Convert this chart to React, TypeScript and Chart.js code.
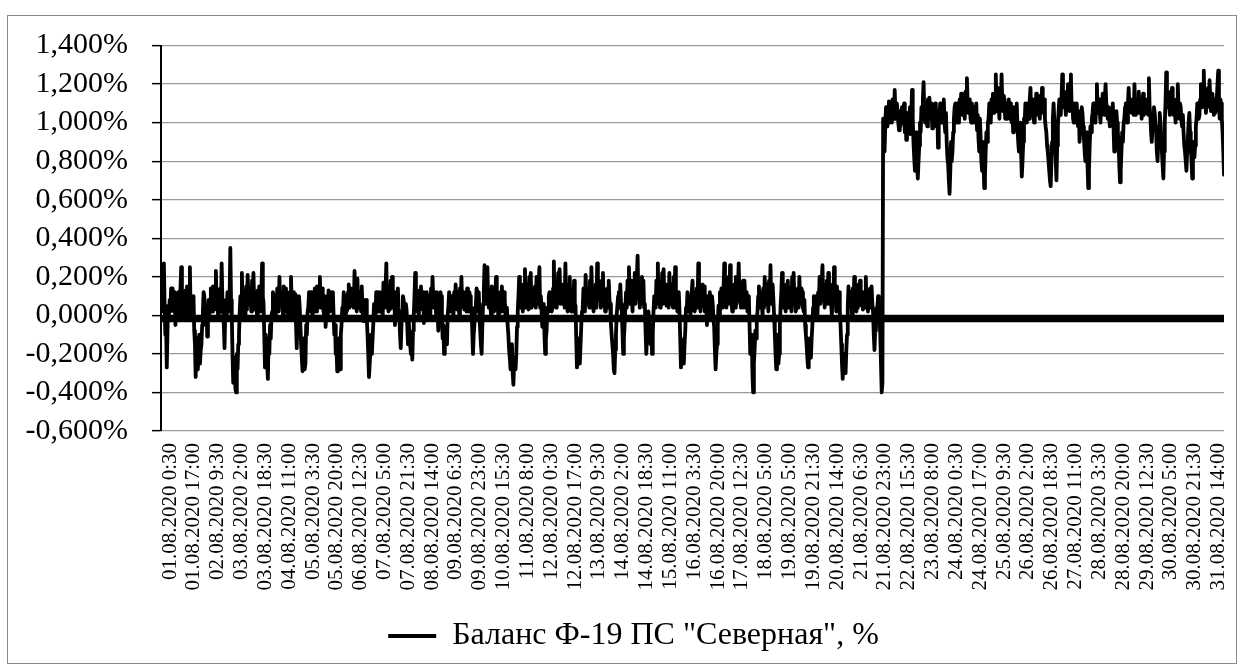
import React, { useEffect, useRef } from 'react';
import { Chart, registerables } from 'chart.js';

Chart.register(...registerables);

// ---- data ----
const SERIES_NAME = 'Баланс Ф-19 ПС "Северная", %';
const ROWS_PER_POINT = 1; // one value per half-hour row
const LABEL_EVERY_ROWS = 33;

const TICK_LABELS = [
  '01.08.2020 0:30', '01.08.2020 17:00', '02.08.2020 9:30', '03.08.2020 2:00', '03.08.2020 18:30',
  '04.08.2020 11:00', '05.08.2020 3:30', '05.08.2020 20:00', '06.08.2020 12:30', '07.08.2020 5:00',
  '07.08.2020 21:30', '08.08.2020 14:00', '09.08.2020 6:30', '09.08.2020 23:00', '10.08.2020 15:30',
  '11.08.2020 8:00', '12.08.2020 0:30', '12.08.2020 17:00', '13.08.2020 9:30', '14.08.2020 2:00',
  '14.08.2020 18:30', '15.08.2020 11:00', '16.08.2020 3:30', '16.08.2020 20:00', '17.08.2020 12:30',
  '18.08.2020 5:00', '19.08.2020 5:00', '19.08.2020 21:30', '20.08.2020 14:00', '21.08.2020 6:30',
  '21.08.2020 23:00', '22.08.2020 15:30', '23.08.2020 8:00', '24.08.2020 0:30', '24.08.2020 17:00',
  '25.08.2020 9:30', '26.08.2020 2:00', '26.08.2020 18:30', '27.08.2020 11:00', '28.08.2020 3:30',
  '28.08.2020 20:00', '29.08.2020 12:30', '30.08.2020 5:00', '30.08.2020 21:30', '31.08.2020 14:00',
];

// values in %, before the step change (01.08 – 21.08)
const BALANCE_BEFORE = [
  0.02, 0.12, 0.1, 0.18, 0.27, 0.05, -0.1, -0.05, -0.27, -0.08, 0.05, 0.0, 0.08, 0.02, 0.14, 0.04, 0.14, 0.1, 0.02, 0.12, -0.05, 0.04, 0.1, 0.01,
  0.12, 0.0, 0.04, 0.14, 0.25, 0.02, 0.08, 0.0, 0.03, 0.1, 0.13, 0.01, 0.15, 0.06, 0.0, 0.12, 0.25, 0.02, 0.09, 0.0, 0.06, 0.1, -0.08, -0.15,
  -0.32, -0.2, -0.12, -0.28, -0.2, -0.1, -0.25, -0.18, -0.15, -0.05, 0.02, 0.12, 0.1, 0.0, -0.05, 0.04, -0.11, 0.0, 0.08, 0.0, 0.06, 0.14, 0.12, 0.02,
  0.15, 0.04, 0.03, 0.12, 0.23, 0.05, 0.1, 0.0, 0.04, 0.12, 0.14, 0.02, 0.27, 0.08, 0.05, -0.05, -0.17, 0.02, 0.08, 0.0, 0.12, 0.03, 0.02, 0.1,
  0.35, 0.08, 0.0, -0.2, -0.35, -0.3, -0.22, -0.38, -0.4, -0.2, -0.28, -0.15, -0.1, 0.02, 0.1, 0.0, 0.22, 0.06, 0.04, 0.12, 0.05, 0.0, 0.15, 0.03,
  0.21, 0.1, 0.06, 0.14, 0.1, 0.02, 0.18, 0.06, 0.22, 0.08, 0.03, 0.12, 0.08, 0.0, 0.13, 0.04, 0.15, 0.06, 0.02, 0.12, 0.27, 0.1, 0.06, -0.1,
  -0.27, -0.1, -0.15, -0.25, -0.33, -0.12, -0.2, -0.05, -0.12, 0.0, 0.02, 0.12, 0.1, 0.02, 0.0, 0.1, 0.03, 0.14, 0.12, 0.02, 0.2, 0.08, 0.05, 0.12,
  0.08, 0.0, 0.15, 0.05, 0.14, 0.04, 0.02, 0.12, -0.02, 0.06, 0.1, 0.0, 0.2, 0.06, 0.04, 0.12, 0.06, 0.0, 0.11, -0.05, -0.17, 0.0, -0.05, 0.1,
  0.05, -0.05, -0.15, -0.22, -0.29, -0.12, -0.18, -0.28, -0.25, -0.05, -0.1, 0.02, 0.04, 0.12, 0.1, 0.02, 0.12, 0.04, 0.0, 0.1, 0.02, 0.14, 0.11, 0.02,
  0.15, 0.08, 0.05, 0.12, 0.2, 0.04, 0.09, 0.14, 0.08, 0.02, 0.0, 0.1, -0.06, 0.04, 0.06, 0.0, 0.13, 0.03, 0.02, 0.12, 0.04, 0.1, 0.12, 0.0,
  -0.1, -0.05, -0.2, -0.15, -0.29, -0.2, -0.12, -0.22, -0.28, -0.1, -0.05, 0.04, 0.02, 0.12, 0.08, 0.0, 0.1, 0.02, 0.03, 0.12, 0.16, 0.04, 0.06, 0.14,
  0.05, 0.1, 0.14, 0.04, 0.23, 0.1, 0.08, 0.02, 0.19, 0.06, 0.04, 0.12, 0.1, 0.02, 0.15, 0.04, -0.03, 0.08, 0.05, 0.0, 0.08, -0.02, -0.1, -0.2,
  -0.32, -0.25, -0.18, -0.1, -0.2, -0.12, -0.04, 0.06, 0.05, 0.0, 0.12, 0.04, 0.12, 0.02, 0.02, 0.12, 0.02, 0.08, 0.1, 0.0, 0.17, 0.04, 0.06, 0.14,
  0.27, 0.05, 0.12, 0.02, 0.1, 0.03, 0.18, 0.06, 0.2, 0.04, 0.05, 0.12, -0.05, 0.02, 0.08, 0.0, 0.14, 0.04, 0.01, -0.1, -0.17, -0.05, 0.02, 0.1,
  0.08, 0.0, -0.02, 0.06, 0.03, -0.05, -0.15, -0.02, -0.1, -0.15, -0.2, -0.12, -0.23, -0.08, 0.0, 0.1, 0.22, 0.02, 0.05, 0.12, 0.06, 0.0, 0.13, 0.04,
  0.15, 0.06, 0.03, 0.12, -0.04, 0.04, 0.09, 0.0, 0.12, 0.04, 0.02, 0.1, 0.05, 0.0, 0.14, 0.06, 0.2, 0.08, 0.04, 0.12, 0.08, 0.0, 0.12, 0.02,
  -0.08, 0.02, 0.04, 0.12, 0.1, 0.0, -0.12, -0.05, -0.2, -0.1, -0.06, -0.12, -0.15, 0.0, 0.05, 0.12, 0.12, 0.02, 0.02, 0.1, 0.04, 0.0, 0.12, 0.04,
  0.16, 0.06, 0.03, 0.12, 0.08, 0.0, 0.14, 0.04, 0.2, 0.06, 0.05, 0.12, 0.03, 0.1, 0.12, 0.02, 0.14, 0.05, 0.02, 0.12, 0.1, 0.02, 0.04, -0.08,
  -0.2, -0.1, -0.05, 0.04, 0.05, 0.14, 0.12, 0.02, 0.12, 0.0, -0.08, -0.15, -0.2, -0.05, 0.06, 0.12, 0.26, 0.06, 0.1, 0.2, 0.25, 0.08, 0.04, 0.12,
  0.06, 0.0, 0.15, 0.05, 0.13, 0.02, 0.03, 0.12, 0.2, 0.06, 0.08, 0.0, 0.02, 0.1, 0.12, 0.02, 0.15, 0.05, 0.03, 0.12, 0.08, 0.0, -0.02, 0.04,
  -0.05, -0.1, -0.18, -0.22, -0.28, -0.2, -0.15, -0.3, -0.36, -0.25, -0.22, -0.28, -0.2, -0.06, 0.02, 0.1, 0.2, 0.04, 0.06, 0.14, 0.08, 0.02, 0.16, 0.06,
  0.24, 0.04, 0.1, 0.16, 0.12, 0.03, 0.2, 0.08, 0.22, 0.04, 0.06, 0.14, 0.05, 0.1, 0.15, 0.04, 0.2, 0.06, 0.08, 0.16, 0.25, 0.04, 0.1, 0.02,
  -0.06, 0.02, 0.06, -0.1, -0.2, -0.12, -0.08, 0.04, 0.02, 0.1, 0.12, 0.03, 0.1, 0.02, 0.04, 0.14, 0.28, 0.06, 0.12, 0.04, 0.15, 0.06, 0.22, 0.08,
  0.24, 0.06, 0.08, 0.16, 0.06, 0.12, 0.16, 0.04, 0.27, 0.06, 0.1, 0.02, 0.1, 0.16, 0.2, 0.05, 0.02, 0.12, 0.09, 0.02, 0.18, 0.06, 0.05, -0.12,
  -0.27, -0.2, -0.12, -0.2, -0.25, -0.15, -0.05, 0.02, 0.04, 0.14, 0.12, 0.02, 0.21, 0.1, 0.06, 0.14, 0.12, 0.04, 0.18, 0.06, 0.25, 0.1, 0.08, 0.02,
  0.08, 0.14, 0.16, 0.04, 0.27, 0.08, 0.1, 0.18, 0.15, 0.04, 0.05, 0.12, 0.22, 0.06, 0.12, 0.02, 0.05, 0.12, 0.14, 0.04, 0.18, 0.08, 0.06, -0.04,
  -0.1, -0.15, -0.2, -0.28, -0.3, -0.18, -0.1, 0.0, 0.05, 0.1, 0.12, 0.04, 0.16, 0.06, 0.02, -0.08, -0.2, -0.12, -0.05, 0.04, 0.12, 0.04, 0.18, 0.08,
  0.25, 0.06, 0.1, 0.18, 0.08, 0.02, 0.18, 0.08, 0.22, 0.06, 0.12, 0.2, 0.31, 0.1, 0.15, 0.04, 0.1, 0.16, 0.2, 0.06, 0.18, 0.04, 0.06, -0.08,
  -0.2, -0.12, -0.08, 0.02, -0.05, -0.12, -0.15, -0.05, -0.2, -0.1, 0.02, 0.1, 0.1, 0.04, 0.18, 0.08, 0.27, 0.06, 0.12, 0.04, 0.15, 0.08, 0.22, 0.06,
  0.24, 0.08, 0.1, 0.16, 0.05, 0.12, 0.15, 0.04, 0.22, 0.06, 0.08, 0.16, 0.12, 0.04, 0.2, 0.08, 0.25, 0.06, 0.1, 0.02, 0.08, 0.12, 0.02, -0.12,
  -0.27, -0.2, -0.15, -0.22, -0.25, -0.15, -0.08, 0.04, 0.02, 0.12, 0.1, 0.02, 0.1, 0.0, 0.03, 0.12, 0.18, 0.06, 0.1, 0.02, 0.04, 0.12, 0.14, 0.04,
  0.27, 0.08, 0.12, 0.02, 0.08, 0.14, 0.16, 0.05, 0.15, 0.02, 0.05, 0.1, -0.05, 0.02, 0.08, 0.0, 0.12, 0.04, 0.03, 0.1, 0.06, -0.02, -0.06, -0.18,
  -0.28, -0.2, -0.15, -0.05, 0.05, 0.0, 0.12, 0.04, 0.14, 0.04, 0.06, 0.14, 0.27, 0.06, 0.12, 0.04, 0.1, 0.16, 0.2, 0.06, 0.26, 0.1, 0.08, 0.02,
  0.06, 0.12, 0.16, 0.04, 0.2, 0.06, 0.1, 0.16, 0.27, 0.08, 0.12, 0.04, 0.1, 0.16, 0.18, 0.04, 0.18, 0.08, 0.06, 0.12, 0.02, 0.08, 0.1, -0.05,
  -0.2, -0.15, -0.1, -0.3, -0.4, -0.25, -0.18, -0.08, -0.12, -0.02, 0.02, 0.1, 0.15, 0.04, 0.05, 0.12, 0.06, 0.0, 0.14, 0.04, 0.2, 0.06, 0.08, 0.16,
  0.1, 0.02, 0.18, 0.08, 0.26, 0.06, 0.1, 0.16, 0.08, 0.0, -0.1, -0.2, -0.28, -0.1, -0.15, -0.25, -0.2, -0.05, 0.05, 0.12, 0.22, 0.04, 0.08, 0.14,
  0.08, 0.02, 0.16, 0.06, 0.18, 0.04, 0.06, 0.14, 0.1, 0.02, 0.2, 0.06, 0.22, 0.1, 0.08, 0.02, 0.04, 0.12, 0.14, 0.04, 0.2, 0.08, 0.06, 0.14,
  0.12, 0.04, 0.02, 0.08, -0.05, -0.1, -0.15, -0.22, -0.27, -0.18, -0.12, -0.2, -0.22, -0.12, -0.05, 0.04, 0.1, 0.0, 0.02, 0.1, 0.04, 0.0, 0.12, 0.06,
  0.2, 0.06, 0.1, 0.18, 0.26, 0.08, 0.12, 0.04, 0.1, 0.16, 0.18, 0.06, 0.22, 0.1, 0.06, 0.14, 0.06, 0.0, 0.16, 0.06, 0.25, 0.08, 0.1, 0.02,
  0.15, 0.06, 0.04, 0.12, 0.02, -0.05, -0.15, -0.25, -0.33, -0.22, -0.2, -0.28, -0.3, -0.18, -0.1, 0.04, 0.15, 0.06, 0.05, 0.12, 0.06, 0.0, 0.14, 0.06,
  0.2, 0.1, 0.08, 0.02, 0.1, 0.04, 0.16, 0.06, 0.18, 0.1, 0.05, 0.12, 0.03, 0.1, 0.12, 0.04, 0.2, 0.06, 0.1, 0.02,
  0.08, 0.12, 0.14, 0.04, 0.15, 0.06, 0.02, -0.1, -0.18, -0.08, -0.05, 0.04, 0.04, 0.1, 0.06, -0.02, -0.1, -0.25, -0.4, -0.35,
];

// values in %, after the step change (21.08 – 31.08)
const BALANCE_AFTER = [
  1.02, 0.95, 0.85, 1.0, 1.08, 1.0, 0.98, 1.08, 1.11, 1.0, 1.04, 1.1, 1.0, 1.12, 1.1, 1.02, 1.17, 1.05, 1.02, 1.1, 1.05, 1.0, 0.96, 1.06,
  0.98, 1.04, 1.08, 1.0, 1.04, 1.1, 0.95, 1.05, 0.91, 0.98, 1.05, 1.0, 1.02, 1.08, 0.94, 1.05, 1.17, 1.02, 0.9, 0.82, 0.75, 0.85, 0.95, 0.8,
  0.71, 0.8, 0.88, 1.0, 0.95, 1.08, 1.06, 1.12, 1.21, 1.05, 1.0, 1.1, 1.05, 0.98, 1.12, 1.02, 1.13, 1.05, 1.02, 1.1, 0.97, 1.04, 1.08, 1.0,
  1.1, 1.02, 0.98, 1.06, 0.87, 0.98, 1.04, 1.1, 1.08, 1.0, 1.0, 1.08, 1.12, 1.0, 0.95, 1.05, 0.9, 0.82, 0.78, 0.7, 0.63, 0.75, 0.9, 0.8,
  0.85, 0.95, 1.02, 1.08, 1.1, 1.02, 1.0, 1.1, 1.05, 1.0, 1.12, 1.04, 1.15, 1.06, 1.04, 1.12, 1.08, 1.02, 1.16, 1.08, 1.23, 1.1, 1.05, 1.12,
  1.1, 1.02, 1.0, 1.1, 1.0, 1.06, 1.08, 1.0, 1.05, 1.1, 0.96, 1.04, 0.92, 0.85, 1.02, 0.92, 0.8, 0.75, 0.9, 0.78, 0.66, 0.72, 0.85, 0.95,
  0.9, 1.0, 1.02, 1.1, 1.05, 1.0, 1.12, 1.05, 1.15, 1.08, 1.05, 1.12, 1.25, 1.06, 1.1, 1.18, 1.08, 1.02, 1.16, 1.08, 1.25, 1.1, 1.06, 1.14,
  1.12, 1.02, 1.04, 1.1, 1.02, 1.08, 1.12, 1.02, 1.1, 1.04, 1.0, 1.08, 0.95, 1.02, 1.08, 1.0, 1.06, 1.1, 0.98, 0.9, 0.85, 0.95, 1.0, 0.85,
  0.72, 0.8, 0.9, 1.02, 1.0, 1.1, 1.08, 1.0, 1.1, 1.04, 1.02, 1.12, 1.18, 1.05, 1.06, 1.12, 1.05, 1.0, 1.12, 1.06, 1.15, 1.08, 1.04, 1.12,
  1.08, 1.02, 1.14, 1.06, 1.18, 1.08, 1.05, 1.12, 1.02, 0.98, 0.95, 0.88, 0.85, 0.8, 0.75, 0.7, 0.67, 0.8, 0.9, 1.02, 1.1, 1.02, 0.95, 0.8,
  0.7, 0.88, 0.98, 1.06, 1.12, 1.04, 1.05, 1.12, 1.25, 1.1, 1.08, 1.14, 1.1, 1.04, 1.16, 1.08, 1.2, 1.1, 1.06, 1.14, 1.25, 1.08, 1.1, 1.02,
  1.0, 1.1, 1.08, 1.0, 1.1, 1.02, 0.98, 1.06, 0.9, 0.98, 1.02, 1.08, 1.05, 0.98, 0.92, 0.85, 0.8, 0.9, 0.95, 0.78, 0.66, 0.75, 0.88, 0.98,
  0.95, 1.02, 1.05, 1.1, 1.1, 1.02, 1.0, 1.1, 1.2, 1.05, 1.06, 1.12, 1.05, 1.0, 1.12, 1.06, 1.15, 1.08, 1.04, 1.12, 1.2, 1.1, 1.08, 1.02,
  1.08, 1.02, 0.98, 1.06, 1.02, 1.08, 1.1, 0.98, 0.85, 0.92, 0.98, 1.06, 1.0, 0.95, 0.9, 0.78, 0.69, 0.75, 0.85, 0.95, 0.9, 1.0, 1.02, 1.08,
  1.1, 1.02, 1.0, 1.1, 1.18, 1.08, 1.06, 1.12, 1.05, 1.1, 1.12, 1.04, 1.2, 1.08, 1.04, 1.12, 1.12, 1.05, 1.16, 1.08, 1.08, 1.12, 1.02, 1.1,
  1.15, 1.04, 1.06, 1.12, 1.05, 1.1, 1.12, 1.04, 1.23, 1.08, 1.04, 0.95, 0.9, 0.98, 1.02, 1.08, 1.05, 1.0, 0.95, 0.85, 0.8, 0.9, 0.98, 1.05,
  1.0, 0.92, 0.85, 0.78, 0.71, 0.85, 1.0, 1.1, 1.26, 1.1, 1.08, 1.14, 1.1, 1.04, 1.16, 1.08, 1.18, 1.1, 1.04, 1.1, 1.05, 1.0, 1.12, 1.06,
  1.2, 1.08, 1.02, 1.1, 1.08, 1.02, 0.98, 1.04, 0.95, 0.88, 0.85, 0.8, 0.75, 0.85, 0.92, 1.0, 1.05, 0.95, 0.88, 0.8, 0.71, 0.8, 0.9, 0.82,
  0.88, 0.98, 1.02, 1.1, 1.1, 1.02, 1.04, 1.12, 1.2, 1.1, 1.08, 1.16, 1.27, 1.12, 1.1, 1.05, 1.12, 1.08, 1.18, 1.1, 1.22, 1.12, 1.06, 1.14,
  1.15, 1.08, 1.04, 1.12, 1.05, 1.1, 1.12, 1.2, 1.27, 1.1, 1.02, 1.12, 1.1, 1.02, 0.95, 0.85, 0.73,
];

const Y_MIN = -0.6;
const Y_MAX = 1.4;
const Y_STEP = 0.2;
const AXIS_LINE_VALUE = -0.016; // horizontal category axis line (crosses near 0)
const LEGEND_SHIFT = 17.5;

// ---- helpers ----
const FONT = "'Liberation Serif', 'Times New Roman', serif";

function formatPercent(v: number): string {
  const n = Math.abs(v) < 1e-9 ? 0 : v;
  return n.toFixed(3).replace('.', ',') + '%';
}

const axisLinePlugin = {
  id: 'axisLine',
  afterLayout(chart: any) {
    if (chart.legend) {
      chart.legend.left += LEGEND_SHIFT;
      chart.legend.right += LEGEND_SHIFT;
    }
  },
  beforeDatasetsDraw(chart: any) {
    const { ctx, chartArea, scales } = chart;
    const y = scales.y.getPixelForValue(AXIS_LINE_VALUE);
    ctx.save();
    ctx.strokeStyle = '#000';
    ctx.lineWidth = 7.5;
    ctx.beginPath();
    ctx.moveTo(chartArea.left, y);
    ctx.lineTo(chartArea.right, y);
    ctx.stroke();
    ctx.restore();
  },
};

export default function App() {
  const canvasRef = useRef<HTMLCanvasElement | null>(null);

  useEffect(() => {
    if (!canvasRef.current) return;
    Chart.defaults.font.family = FONT;
    Chart.defaults.color = '#000';

    const balance = [...BALANCE_BEFORE, ...BALANCE_AFTER];
    const points = balance.map((y, i) => ({ x: i * ROWS_PER_POINT, y }));
    const xMax = (balance.length - 1) * ROWS_PER_POINT;

    const chart = new Chart(canvasRef.current, {
      type: 'line',
      data: {
        datasets: [
          {
            label: SERIES_NAME,
            data: points,
            borderColor: '#000',
            backgroundColor: '#000',
            borderWidth: 3.8,
            pointRadius: 0,
            tension: 0,
            borderJoinStyle: 'round',
            borderCapStyle: 'round',
          },
        ],
      },
      options: {
        animation: false,
        responsive: false,
        events: [],
        layout: { padding: { top: 29.5, left: 0, right: 12, bottom: 1 } },
        plugins: {
          tooltip: { enabled: false },
          legend: {
            position: 'bottom',
            labels: {
              font: { size: 32, family: FONT },
              color: '#000',
              boxWidth: 48,
              boxHeight: 4,
              padding: 10,
              generateLabels: () => [
                {
                  text: SERIES_NAME,
                  fillStyle: '#000',
                  strokeStyle: '#000',
                  lineWidth: 0,
                  hidden: false,
                  datasetIndex: 0,
                },
              ],
            },
          },
        },
        scales: {
          x: {
            type: 'linear',
            min: 0,
            max: xMax,
            afterBuildTicks: (s: any) => {
              s.ticks = TICK_LABELS.map((_, k) => ({ value: k * LABEL_EVERY_ROWS }));
            },
            afterFit: (s: any) => {
              s.height = 179;
              s.paddingLeft = 0;
              s.paddingRight = 0;
            },
            grid: { display: false, drawTicks: false },
            border: { display: false },
            ticks: {
              autoSkip: false,
              minRotation: 90,
              maxRotation: 90,
              labelOffset: 9,
              padding: 12,
              color: '#000',
              font: { size: 21, family: FONT },
              callback: (_v: any, i: number) => TICK_LABELS[i] ?? '',
            },
          },
          y: {
            type: 'linear',
            min: Y_MIN,
            max: Y_MAX,
            afterFit: (s: any) => {
              s.width = 153;
              s.paddingTop = 0;
              s.paddingBottom = 0;
            },
            grid: {
              color: '#9a9a9a',
              lineWidth: 1.3,
              drawTicks: true,
              tickLength: 9,
              tickColor: '#000',
              tickWidth: 1.5,
            },
            border: { display: true, color: '#000', width: 2 },
            ticks: {
              stepSize: Y_STEP,
              autoSkip: false,
              padding: 24,
              color: '#000',
              font: { size: 30, family: FONT },
              callback: (v: any) => formatPercent(Number(v)),
            },
          },
        },
      },
      plugins: [axisLinePlugin],
    } as any);

    return () => chart.destroy();
  }, []);

  return (
    <div
      style={{
        position: 'absolute',
        left: 7,
        top: 15,
        width: 1230,
        height: 649,
        border: '1px solid #8a8a8a',
        boxSizing: 'border-box',
        background: '#fff',
      }}
    >
      <canvas ref={canvasRef} width={1228} height={647} style={{ display: 'block' }} />
    </div>
  );
}
